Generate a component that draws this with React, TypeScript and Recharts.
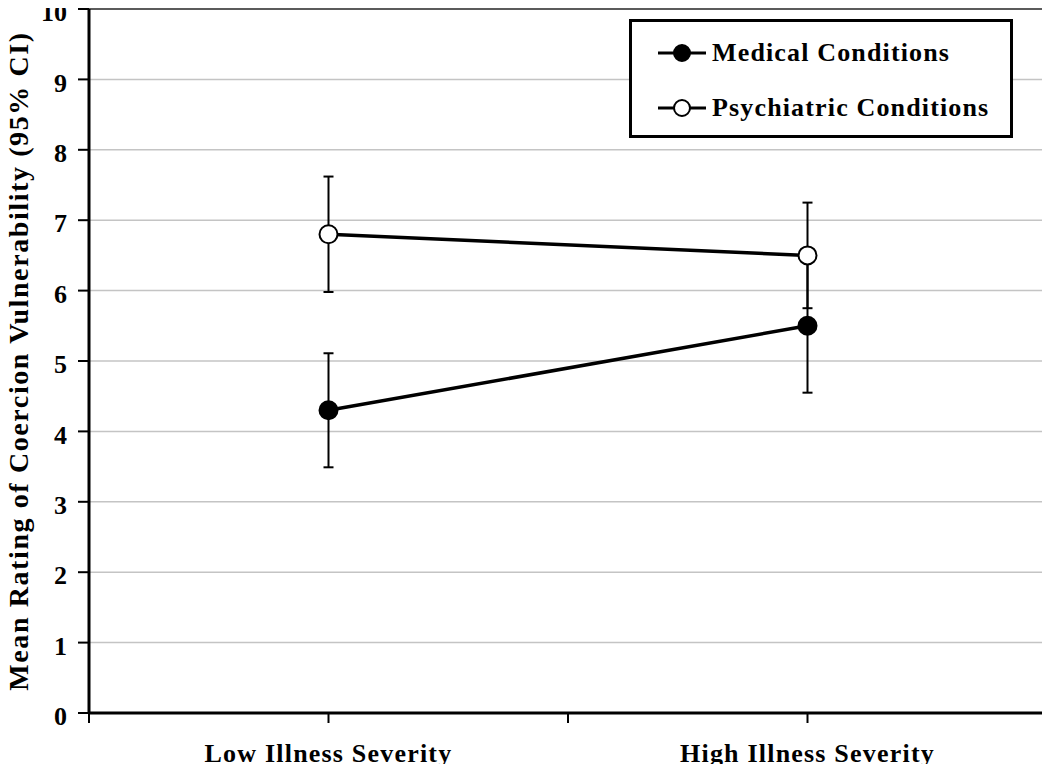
import { LineChart, Line, XAxis, YAxis, CartesianGrid, ErrorBar, Legend, ReferenceLine } from 'recharts';

const categories = ['Low Illness Severity', 'High Illness Severity'];
const categoryPos = [1, 3];
const xTicks = [0, 1, 2, 3, 4];
const yTicks = [0, 1, 2, 3, 4, 5, 6, 7, 8, 9, 10];

const seriesNames = ['Medical Conditions', 'Psychiatric Conditions'];
const medical = [4.3, 5.5];
const medicalCI = [0.81, 0.95];
const psychiatric = [6.8, 6.5];
const psychiatricCI = [0.82, 0.75];

const FONT = "'Liberation Serif', 'Times New Roman', serif";

const data = categories.map((name, i) => ({
  name,
  pos: categoryPos[i],
  medical: medical[i],
  medicalErr: medicalCI[i],
  psychiatric: psychiatric[i],
  psychiatricErr: psychiatricCI[i],
}));

const markerFill: Record<string, string> = {
  [seriesNames[0]]: '#000',
  [seriesNames[1]]: '#fff',
};

function LegendBox({ payload }: any) {
  return (
    <div
      style={{
        border: '3px solid #000',
        background: '#fff',
        width: 384,
        height: 119,
        boxSizing: 'border-box',
        paddingTop: 3,
        paddingLeft: 26,
        fontFamily: FONT,
        fontWeight: 'bold',
        fontSize: 26,
        letterSpacing: 1.15,
      }}
    >
      {(payload || []).map((p: any) => (
        <div key={p.value} style={{ display: 'flex', alignItems: 'center', height: 55 }}>
          <svg width={50} height={24} style={{ marginRight: 4 }}>
            <line x1={0} y1={12} x2={48} y2={12} stroke="#000" strokeWidth={3} />
            <circle cx={24} cy={12} r={8} fill={markerFill[p.value]} stroke="#000" strokeWidth={2} />
          </svg>
          <span>{p.value}</span>
        </div>
      ))}
    </div>
  );
}

export default function App() {
  return (
    <div style={{ margin: -8 }}>
      <LineChart width={1050} height={772} data={data} margin={{ top: 9, right: 3, bottom: 0, left: 0 }}>
        <CartesianGrid vertical={false} stroke="#c4c4c4" strokeWidth={1.5} />
        <ReferenceLine y={10} stroke="#333" strokeWidth={1.5} />
        <ReferenceLine x={4} stroke="#333" strokeWidth={1.5} />
        <XAxis
          dataKey="pos"
          type="number"
          domain={[0, 4]}
          ticks={xTicks}
          interval={0}
          height={59}
          tickSize={10}
          tickMargin={21}
          axisLine={{ stroke: '#000', strokeWidth: 3 }}
          tickLine={{ stroke: '#000', strokeWidth: 2 }}
          tickFormatter={(v: number) => {
            const i = categoryPos.indexOf(v);
            return i >= 0 ? categories[i] : '';
          }}
          tick={{ fill: '#000', fontFamily: FONT, fontWeight: 'bold', fontSize: 26, letterSpacing: 1.2 }}
        />
        <YAxis
          width={89}
          domain={[0, 10]}
          ticks={yTicks}
          interval={0}
          tickSize={11}
          tickMargin={11}
          axisLine={{ stroke: '#000', strokeWidth: 3 }}
          tickLine={{ stroke: '#000', strokeWidth: 2 }}
          tick={{ fill: '#000', fontFamily: FONT, fontWeight: 'bold', fontSize: 26, dy: 3 }}
          label={{
            value: 'Mean Rating of Coercion Vulnerability (95% CI)',
            angle: -90,
            position: 'insideLeft',
            dx: 13,
            style: {
              textAnchor: 'middle',
              fill: '#000',
              fontFamily: FONT,
              fontWeight: 'bold',
              fontSize: 28,
              letterSpacing: 1.6,
            },
          }}
        />
        <Legend
          layout="vertical"
          verticalAlign="middle"
          align="center"
          content={<LegendBox />}
          wrapperStyle={{ top: 19, left: 629, width: 384 }}
        />
        <Line
          name={seriesNames[0]}
          dataKey="medical"
          stroke="#000"
          strokeWidth={3.5}
          dot={{ r: 9, fill: '#000', stroke: '#000', strokeWidth: 2 }}
          activeDot={false}
          isAnimationActive={false}
        >
          <ErrorBar dataKey="medicalErr" direction="y" width={5} stroke="#000" strokeWidth={2} />
        </Line>
        <Line
          name={seriesNames[1]}
          dataKey="psychiatric"
          stroke="#000"
          strokeWidth={3.5}
          dot={{ r: 9, fill: '#fff', stroke: '#000', strokeWidth: 2 }}
          activeDot={false}
          isAnimationActive={false}
        >
          <ErrorBar dataKey="psychiatricErr" direction="y" width={5} stroke="#000" strokeWidth={2} />
        </Line>
      </LineChart>
    </div>
  );
}
